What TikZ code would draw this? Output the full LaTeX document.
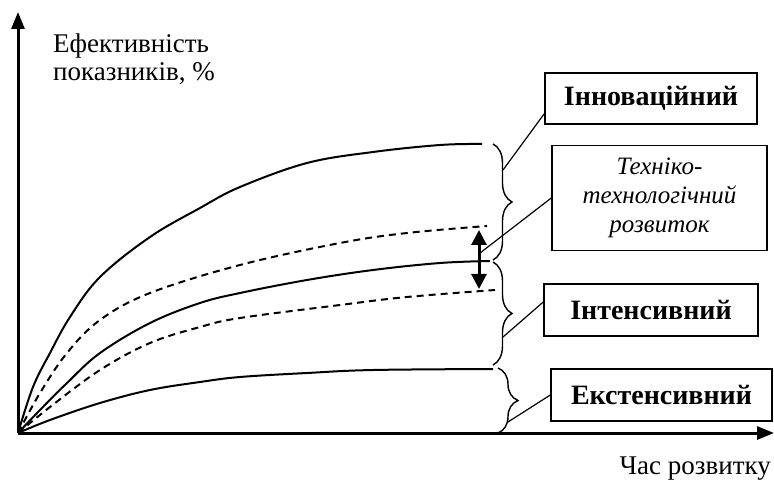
\documentclass[tikz,border=0pt]{standalone}
\usepackage{fontspec}
\setmainfont{Liberation Serif}
\usetikzlibrary{arrows.meta,decorations.pathreplacing}

\begin{document}
\begin{tikzpicture}[x=1pt,y=-1pt,
  axis/.style={line width=3pt,-{Triangle[width=13pt,length=17pt]}},
  curve/.style={line width=2pt},
  dashedcurve/.style={line width=2pt, dash pattern=on 7pt off 5pt},
  axistext/.style={inner sep=0pt, font=\fontsize{27}{29}\selectfont},
  boldtext/.style={font=\fontsize{28}{30}\selectfont\bfseries},
  slanttext/.style={font=\fontsize{25}{29}\selectfont\itshape},
  labelbox/.style={draw, line width=1.4pt, inner sep=0pt, align=center},
  leader/.style={line width=1.2pt},
  bracket/.style={line width=1.4pt, decorate, decoration={brace, amplitude=#1}},
  bracket/.default=19pt,
  gap/.style={line width=3pt, {Triangle[width=15pt,length=15pt]}-{Triangle[width=15pt,length=15pt]}}
]
\useasboundingbox (0,0) rectangle (774,481);

% axes
\coordinate (O) at (18,433);
\coordinate (ytip) at (18,12);
\coordinate (xtip) at (774,433);
\draw[axis] (O) -- (ytip);
\draw[axis] (O) -- (xtip);

% axis titles
\node[anchor=base west, axistext] (ylabA) at (53,53) {Ефективність};
\node[anchor=base west, axistext] (ylabB) at (53,81) {показників, \%};
\node[anchor=base east, axistext] (xlab) at (771,474) {Час розвитку};

% growth curves
\draw[curve] plot[smooth, tension=0.6] coordinates {(18,433) (33,387) (50,353) (70,317)
  (100,277) (150,237) (200,208) (240,187) (307,163) (373,152) (440,145) (482,144)};
\draw[dashedcurve] plot[smooth, tension=0.6] coordinates {(18,433) (40,393) (67,353)
  (100,320) (150,293) (240,265) (340,243) (407,233) (487,226)};
\draw[curve] plot[smooth, tension=0.6] coordinates {(18,433) (40,410) (67,383) (100,353)
  (150,323) (200,303) (240,293) (307,280) (373,270) (440,263) (490,261)};
\draw[dashedcurve] plot[smooth, tension=0.6] coordinates {(18,433) (50,407) (100,370)
  (150,343) (200,327) (240,318) (340,305) (407,297) (495,290)};
\draw[curve] plot[smooth, tension=0.6] coordinates {(18,433) (50,420) (100,403)
  (150,390) (200,382) (240,377) (307,373) (373,370) (493,369)};

% spread between the dashed curves
\coordinate (gtop) at (479,230);
\coordinate (gbot) at (479,289);
\draw[gap] (gtop) -- (gbot);

% braces
\draw[bracket] (493,144) -- (493,260);
\draw[bracket] (493,262) -- (493,365);
\draw[bracket=20pt] (498,368) -- (498,433);

% labels
\node[labelbox, boldtext, minimum width=212pt, minimum height=51pt]
  (inn) at (651,98.5) {Інноваційний};
\node[labelbox, slanttext, minimum width=215pt, minimum height=105pt]
  (tech) at (659.5,198) {Техніко-\\технологічний\\розвиток};
\node[labelbox, boldtext, minimum width=214pt, minimum height=52pt]
  (int) at (651,310) {Інтенсивний};
\node[labelbox, boldtext, minimum width=221pt, minimum height=52pt]
  (ext) at (661.5,395) {Екстенсивний};

% leader lines
\coordinate (l1) at (503,170);
\coordinate (l2) at (480,253);
\coordinate (l3) at (503,337);
\coordinate (l4) at (508,422);
\draw[leader] (l1) -- ([yshift=11pt]inn.south west);
\draw[leader] (l2) -- (tech.west);
\draw[leader] (l3) -- ([yshift=8pt]int.west);
\draw[leader] (l4) -- (ext.west);
\end{tikzpicture}
\end{document}
